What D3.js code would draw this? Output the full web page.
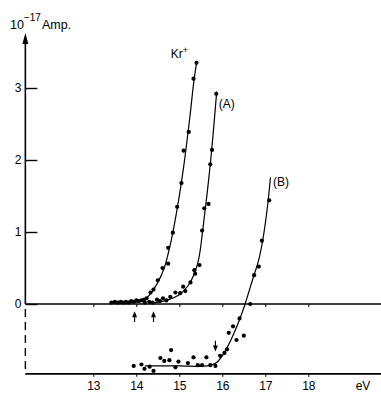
<!DOCTYPE html>
<html>
<head>
<meta charset="utf-8">
<script src="https://cdn.jsdelivr.net/npm/d3@7"></script>
<style>
  body { margin: 0; background: #fff; }
  svg { display: block; font-family: "Liberation Sans", Arial, sans-serif; }
</style>
</head>
<body>
<div class="chart"></div>
<script>
// values (eV, 10^-17 Amp.)
const xTicks = [13, 14, 15, 16, 17, 18];
const yTicks = [0, 1, 2, 3];

const krPoints = [
  [13.42, 0.02], [13.5, 0.03], [13.57, 0.02], [13.64, 0.03], [13.7, 0.02], [13.76, 0.03],
  [13.82, 0.02], [13.88, 0.04], [13.94, 0.03], [14.0, 0.05], [14.06, 0.04], [14.12, 0.05],
  [14.18, 0.06], [14.24, 0.08], [14.33, 0.16], [14.4, 0.20], [14.5, 0.33], [14.61, 0.50],
  [14.74, 0.56], [14.74, 0.78], [14.85, 0.99], [14.95, 1.35], [15.05, 1.68], [15.10, 2.13],
  [15.22, 2.39], [15.33, 3.13], [15.40, 3.35]
];
const krLine = [
  [13.4, 0.01], [13.9, 0.02], [14.15, 0.05], [14.3, 0.12], [14.5, 0.30], [14.65, 0.50],
  [14.8, 0.85], [14.95, 1.32], [15.1, 1.90], [15.25, 2.62], [15.33, 3.05], [15.40, 3.35]
];

const aPoints = [
  [14.2, 0.02], [14.3, 0.03], [14.38, 0.02], [14.48, 0.06], [14.55, 0.04], [14.62, 0.08],
  [14.7, 0.05], [14.79, 0.10], [14.91, 0.16], [15.02, 0.15], [15.09, 0.24], [15.14, 0.18],
  [15.26, 0.30], [15.35, 0.47], [15.37, 0.42], [15.47, 0.54], [15.53, 1.02], [15.58, 1.33],
  [15.68, 1.39], [15.72, 1.94], [15.76, 2.14], [15.86, 2.92]
];
const aLine = [
  [14.3, 0.01], [14.7, 0.05], [15.0, 0.13], [15.2, 0.25], [15.35, 0.42], [15.45, 0.62],
  [15.55, 1.05], [15.65, 1.55], [15.75, 2.12], [15.87, 2.95]
];

const bPoints = [
  [13.94, -0.86], [14.12, -0.84], [14.19, -0.90], [14.31, -0.87], [14.40, -0.93],
  [14.56, -0.75], [14.65, -0.79], [14.77, -0.78], [14.81, -0.64], [14.91, -0.88],
  [14.98, -0.80], [15.20, -0.82], [15.33, -0.74], [15.43, -0.85], [15.53, -0.85],
  [15.63, -0.74], [15.72, -0.85], [15.84, -0.86], [15.95, -0.72], [16.05, -0.68],
  [16.11, -0.63], [16.15, -0.40], [16.25, -0.31], [16.33, -0.50], [16.40, -0.20],
  [16.50, -0.44], [16.65, 0.0], [16.74, 0.40], [16.85, 0.52], [16.92, 0.88], [17.09, 1.44]
];
const bLine = [
  [14.2, -0.86], [15.0, -0.86], [15.65, -0.86], [15.85, -0.82], [16.0, -0.72],
  [16.2, -0.50], [16.4, -0.22], [16.53, 0.0], [16.7, 0.33], [16.85, 0.62],
  [16.95, 0.92], [17.05, 1.35], [17.12, 1.76]
];

// threshold markers: [eV, tail, head]
const arrows = [[13.96, -0.25, -0.10], [14.40, -0.25, -0.10], [15.84, -0.51, -0.66]];

const seriesLabels = [
  { text: 'Kr', sup: '+', at: [14.8, 3.42] },
  { text: '(A)', sup: '', at: [15.92, 2.72] },
  { text: '(B)', sup: '', at: [17.18, 1.64] }
];

const eRange = [11.42, 19.7];
const lowerBase = -0.97;

function visualize() {
  const width = 381, height = 394;
  const svg = d3.select('.chart').append('svg')
    .attr('width', width).attr('height', height);

  const xScale = d3.scaleLinear().domain([13, 18]).range([93.3, 308.3]);
  const yScale = d3.scaleLinear().domain([0, 3]).range([304, 88]);

  const g = svg.append('g');

  // baselines
  [0, lowerBase].forEach(v => {
    g.append('line')
      .attr('x1', xScale(eRange[0])).attr('x2', xScale(eRange[1]))
      .attr('y1', yScale(v)).attr('y2', yScale(v))
      .style('stroke', '#000').style('stroke-width', 1.6);
  });

  // x ticks on both baselines
  const upperAxis = d3.axisBottom(xScale).tickValues(xTicks).tickSize(3).tickFormat('');
  g.append('g').attr('transform', `translate(0, ${yScale(0)})`).call(upperAxis)
    .call(a => a.select('.domain').remove());
  const lowerAxis = d3.axisBottom(xScale).tickValues(xTicks).tickSize(3).tickPadding(5)
    .tickFormat(d3.format('d'));
  g.append('g').attr('transform', `translate(0, ${yScale(lowerBase)})`).call(lowerAxis)
    .call(a => a.select('.domain').remove())
    .call(a => a.selectAll('text').style('font-size', '12px').style('fill', '#000')
      .style('font-family', '"Liberation Sans", Arial, sans-serif'));
  g.selectAll('.tick line').style('stroke', '#000').style('stroke-width', 1);

  g.append('text')
    .attr('x', 363).attr('y', yScale(lowerBase) + 16.5)
    .attr('text-anchor', 'middle')
    .style('font-size', '12px')
    .text('eV');

  // y axis
  const x0 = xScale(eRange[0]);
  g.append('line')
    .attr('x1', x0).attr('x2', x0)
    .attr('y1', yScale(0)).attr('y2', 42)
    .style('stroke', '#000').style('stroke-width', 1.6);
  g.append('path')
    .attr('d', `M${x0},33 L${x0 - 3},44 L${x0 + 3},44 Z`)
    .style('fill', '#000');
  g.append('line')
    .attr('x1', x0).attr('x2', x0)
    .attr('y1', yScale(0) + 5).attr('y2', yScale(lowerBase))
    .style('stroke', '#000').style('stroke-width', 1.4)
    .style('stroke-dasharray', '8,5');

  const yAxis = d3.axisRight(yScale).tickValues(yTicks).tickSize(12).tickFormat('');
  g.append('g').attr('transform', `translate(${x0}, 0)`).call(yAxis)
    .call(a => a.select('.domain').remove())
    .call(a => a.selectAll('line').style('stroke', '#000').style('stroke-width', 1.4));

  g.selectAll('.ylab')
    .data(yTicks)
    .enter().append('text')
    .attr('x', x0 - 4).attr('y', d => yScale(d) + 4)
    .attr('text-anchor', 'end')
    .style('font-size', '12px')
    .text(d => d);

  const title = g.append('text').attr('x', 10).attr('y', 29).style('font-size', '12.5px');
  title.append('tspan').text('10');
  title.append('tspan').attr('dy', -8).style('font-size', '10px').text('−17');
  title.append('tspan').attr('dy', 8).attr('dx', 1).text('Amp.');

  // curves and points
  const line = d3.line()
    .x(d => xScale(d[0]))
    .y(d => yScale(d[1]))
    .curve(d3.curveCatmullRom.alpha(0.5));

  [krLine, aLine, bLine].forEach(s => {
    g.append('path')
      .attr('d', line(s))
      .style('fill', 'none')
      .style('stroke', '#000')
      .style('stroke-width', 1.2);
  });

  const allPoints = krPoints.concat(aPoints, bPoints);
  g.selectAll('.plot-point')
    .data(allPoints)
    .enter().append('circle')
    .classed('plot-point', true)
    .attr('cx', d => xScale(d[0]))
    .attr('cy', d => yScale(d[1]))
    .attr('r', 2.1)
    .style('fill', '#000');

  // arrows
  arrows.forEach(a => {
    const ax = xScale(a[0]);
    const yt = yScale(a[1]), yh = yScale(a[2]);
    const dir = yh < yt ? 1 : -1;
    g.append('line')
      .attr('x1', ax).attr('x2', ax).attr('y1', yt).attr('y2', yh + dir * 4)
      .style('stroke', '#000').style('stroke-width', 1.2);
    g.append('path')
      .attr('d', `M${ax},${yh} L${ax - 2.5},${yh + dir * 6} L${ax + 2.5},${yh + dir * 6} Z`)
      .style('fill', '#000');
  });

  // series labels
  seriesLabels.forEach(l => {
    const t = g.append('text')
      .attr('x', xScale(l.at[0])).attr('y', yScale(l.at[1]))
      .style('font-size', '12px')
      .text(l.text);
    if (l.sup) {
      t.append('tspan').attr('dy', -5).style('font-size', '9px').text(l.sup);
    }
  });
}

visualize();
</script>
</body>
</html>
